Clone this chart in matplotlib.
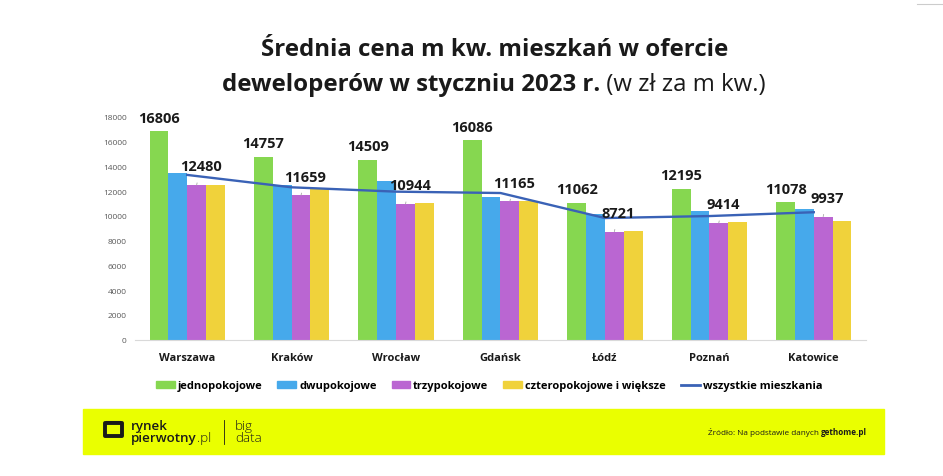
import matplotlib
matplotlib.use("Agg")
import matplotlib.pyplot as plt
from matplotlib.patches import Rectangle
from matplotlib.lines import Line2D
from matplotlib.text import Annotation
import numpy as np

cities = ["Warszawa", "Kraków", "Wrocław", "Gdańsk", "Łódź", "Poznań", "Katowice"]
jednopokojowe = [16806, 14757, 14509, 16086, 11062, 12195, 11078]
dwupokojowe = [13450, 12500, 12830, 11540, 10150, 10360, 10550]
trzypokojowe = [12480, 11659, 10944, 11165, 8721, 9414, 9937]
czteropokojowe = [12490, 12160, 11030, 11220, 8750, 9480, 9550]
wszystkie = [13300, 12300, 11950, 11840, 9820, 9980, 10290]
yticks = [0, 2000, 4000, 6000, 8000, 10000, 12000, 14000, 16000, 18000]
series_names = ["jednopokojowe", "dwupokojowe", "trzypokojowe", "czteropokojowe i większe"]
line_name = "wszystkie mieszkania"

colors = ["#86D750", "#46A9EB", "#BA66D2", "#F0D23B"]
line_color = "#3A62B6"
FONT = "Open Sans"
plt.rcParams["font.family"] = [FONT, "DejaVu Sans"]

W, H = 943, 477
fig = plt.figure(figsize=(W / 100, H / 100), dpi=100)
ax = fig.add_axes([135 / W, 1 - 340.7 / H, 731 / W, 223 / H])

x = np.arange(len(cities))
w = 0.18
series = [jednopokojowe, dwupokojowe, trzypokojowe, czteropokojowe]
for k, (vals, c) in enumerate(zip(series, colors)):
    ax.bar(x + (k - 1.5) * w, vals, width=w, color=c, zorder=2, label=series_names[k])

ax.plot(x, wszystkie, color=line_color, lw=1.7, zorder=4, label=line_name)

# data labels
for i in range(len(cities)):
    ax.annotate(f"{jednopokojowe[i]}", xy=(x[i] - 1.5 * w, jednopokojowe[i]),
                xytext=(0, 10), textcoords="offset points", ha="center", va="center",
                fontsize=10.5, fontweight="bold", color="#1a1a1a", annotation_clip=False, zorder=6)
    ax.annotate(f"{trzypokojowe[i]}", xy=(x[i] + 0.5 * w, trzypokojowe[i]),
                xytext=(3, 13.5), textcoords="offset points", ha="center", va="center",
                fontsize=10.5, fontweight="bold", color="#1a1a1a", annotation_clip=False, zorder=6,
                arrowprops=dict(arrowstyle="-", color="#a8a8a8", lw=0.6, shrinkA=5, shrinkB=0))

ax.set_xlim(-0.5, len(cities) - 0.5)
ax.set_ylim(0, 18000)
ax.set_yticks(yticks)
ax.set_yticklabels([str(t) for t in yticks], fontsize=6, color="#595959")
ax.set_xticks(x)
ax.set_xticklabels(cities, fontsize=8, fontweight="bold", color="#1a1a1a")
ax.tick_params(axis="both", length=0)
ax.tick_params(axis="y", pad=6)
ax.tick_params(axis="x", pad=9)
for s in ["top", "right", "left"]:
    ax.spines[s].set_visible(False)
ax.spines["bottom"].set_color("#d9d9d9")
ax.spines["bottom"].set_linewidth(0.8)

# legend
handles = [Rectangle((0, 0), 1, 1, color=c) for c in colors]
handles.append(Line2D([0], [0], color=line_color, lw=2))
fig.legend(handles, series_names + [line_name], loc="center", bbox_to_anchor=(489 / W, 1 - 387 / H),
           ncol=5, frameon=False, prop={"weight": "bold", "size": 8, "family": FONT},
           handlelength=1.7, handleheight=0.6, handletextpad=0.25, columnspacing=1.35)

# title
TS = 17.3
fig.text(495 / W, 1 - 50 / H, "Średnia cena m kw. mieszkań w ofercie", ha="center", va="center",
         fontsize=TS, fontweight="bold", color="#1a1a1a")
t1 = fig.text(222 / W, 1 - 85 / H, "deweloperów w styczniu 2023 r.", ha="left", va="center",
              fontsize=TS, fontweight="bold", color="#1a1a1a")
fig.add_artist(Annotation(" (w zł za m kw.)", xy=(1, 0), xycoords=t1, xytext=(0, 0),
                          textcoords="offset points", ha="left", va="bottom", fontsize=TS,
                          fontweight="normal", color="#1a1a1a"))

# banner
fig.add_artist(Rectangle((83 / W, 1 - 455 / H), (884 - 83) / W, 45 / H, transform=fig.transFigure,
                         color="#EAFF00", zorder=0))
# logo icon
fig.add_artist(Rectangle((105 / W, 1 - 437 / H), 17 / W, 13 / H, transform=fig.transFigure,
                         fill=False, edgecolor="#1a1a1a", lw=2.8, joinstyle="round", zorder=2))
fig.add_artist(Line2D([107 / W, 120 / W], [1 - 422.5 / H, 1 - 422.5 / H], transform=fig.transFigure,
                      color="#1a1a1a", lw=1.5, zorder=2))
lg = fig.text(131 / W, 1 - 432.5 / H, "rynek\npierwotny", fontsize=9.6, color="#1a1a1a", ha="left",
              va="center", fontweight="semibold", linespacing=0.85)
fig.add_artist(Annotation(".pl", xy=(1, 0), xycoords=lg, xytext=(0, 0), textcoords="offset points",
                          ha="left", va="bottom", fontsize=9.6, color="#1a1a1a", fontweight="light"))
fig.add_artist(Line2D([224 / W, 224 / W], [1 - 445 / H, 1 - 421 / H], transform=fig.transFigure,
                      color="#1a1a1a", lw=0.6))
fig.text(235 / W, 1 - 432.5 / H, "big\ndata", fontsize=9.6, color="#1a1a1a", ha="left", va="center",
         fontweight="light", linespacing=0.85)

s1 = fig.text(867 / W, 1 - 433 / H, "gethome.pl", fontsize=5.9, fontweight="bold", color="#1a1a1a",
              ha="right", va="center")
fig.add_artist(Annotation("Źródło: Na podstawie danych ", xy=(0, 0), xycoords=s1, xytext=(0, 0),
                          textcoords="offset points", ha="right", va="bottom", fontsize=5.9,
                          color="#1a1a1a"))

fig.add_artist(Line2D([917 / W, 943 / W], [1 - 5 / H, 1 - 5 / H], transform=fig.transFigure,
                      color="#cccccc", lw=0.8))

fig.savefig("out.png", dpi=100, facecolor="white")
